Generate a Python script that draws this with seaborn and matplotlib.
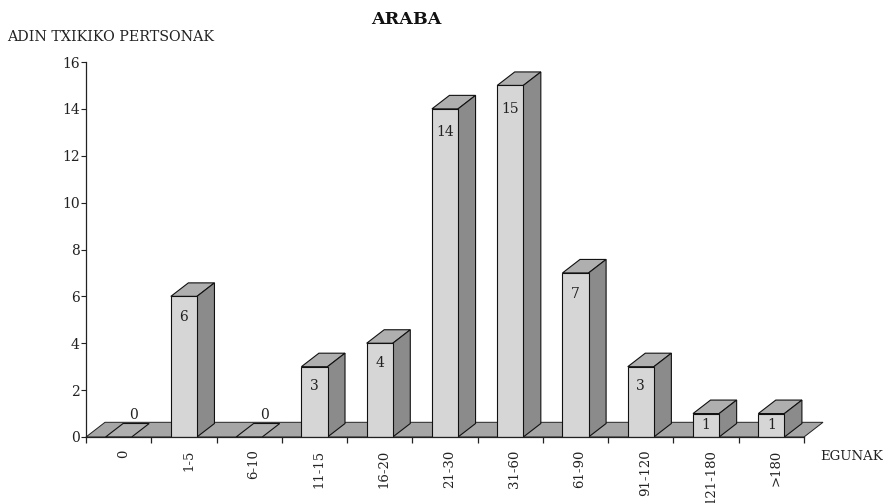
import numpy as np
import pandas as pd
import matplotlib
matplotlib.use('Agg')
import matplotlib.pyplot as plt
from matplotlib.patches import Polygon
import seaborn as sns

categories = ['0', '1-5', '6-10', '11-15', '16-20', '21-30', '31-60', '61-90', '91-120', '121-180', '>180']
values = [0, 6, 0, 3, 4, 14, 15, 7, 3, 1, 1]
y_ticks = [0, 2, 4, 6, 8, 10, 12, 14, 16]

sns.set_style('white')
plt.rcParams['font.family'] = ['DejaVu Serif']

W, H = 884, 503
fig = plt.figure(figsize=(W / 100, H / 100), dpi=100)
ax = fig.add_axes([86 / W, (H - 437) / H, (804 - 86) / W, (437 - 62) / H])

df = pd.DataFrame({'dias': categories, 'n': values})
sns.barplot(data=df, x='dias', y='n', ax=ax, color='#d6d6d6', saturation=1, width=0.4,
            edgecolor='#111111', linewidth=0.8, zorder=3)

ax.set_xlim(-0.5, 10.5)
ax.set_ylim(0, 16)
ax.set_xlabel(None)
ax.set_ylabel(None)

# fake 3d depth, in data units
dx = 17.5 / (718 / 11)
dy = 13.5 / (375 / 16)
floor_dx = 19 / (718 / 11)
floor_dy = 14.7 / (375 / 16)

ax.add_patch(Polygon([(-0.5, 0), (-0.5 + floor_dx, floor_dy), (10.5 + floor_dx, floor_dy), (10.5, 0)],
                     closed=True, facecolor='#a6a6a6', edgecolor='#222222', linewidth=0.7, zorder=1, clip_on=False))

for bar, val in zip(ax.patches[:len(values)], values):
    x0 = bar.get_x()
    x1 = x0 + bar.get_width()
    h = bar.get_height()
    ax.add_patch(Polygon([(x0, h), (x0 + dx, h + dy), (x1 + dx, h + dy), (x1, h)], closed=True,
                         facecolor='#afafaf', edgecolor='#111111', linewidth=0.8, zorder=2, clip_on=False))
    if h > 0:
        ax.add_patch(Polygon([(x1, 0), (x1 + dx, dy), (x1 + dx, h + dy), (x1, h)], closed=True,
                             facecolor='#8b8b8b', edgecolor='#111111', linewidth=0.8, zorder=2, clip_on=False))
        off = -min(h * (375 / 16) / 2, 18 + h * 0.4) * 0.72
        ax.annotate(str(val), (x0 + bar.get_width() / 2, h), xytext=(0, off), textcoords='offset points',
                    ha='center', va='center', fontsize=10, color='#222222', zorder=5)
    else:
        ax.annotate(str(val), (x0 + bar.get_width() / 2 + dx * 0.85, 0), xytext=(0, 22 * 0.72),
                    textcoords='offset points', ha='center', va='center', fontsize=10, color='#222222', zorder=5)

sns.despine(ax=ax)
for side in ['left', 'bottom']:
    ax.spines[side].set_color('#222222')
    ax.spines[side].set_linewidth(0.9)
    ax.spines[side].set_zorder(6)

ax.set_yticks(y_ticks)
ax.tick_params(axis='y', left=True, length=3.6, width=0.8, color='#222222', labelsize=10, pad=1, labelcolor='#222222')
ax.set_xticks(np.arange(-0.5, 11, 1))
ax.set_xticklabels([])
ax.tick_params(axis='x', which='major', bottom=True, length=4.5, width=0.9, color='#222222')
ax.set_xticks(np.arange(len(categories)) + 0.07, minor=True)
ax.set_xticklabels(categories, minor=True, rotation=90, fontsize=9.5, color='#222222')
ax.tick_params(axis='x', which='minor', bottom=False, pad=7)

fig.text(406.5 / W, 1 - 19 / H, 'ARABA', ha='center', va='center', fontsize=12.6, fontweight='bold', color='#111111')
fig.text(7 / W, 1 - 37 / H, 'ADIN TXIKIKO PERTSONAK', ha='left', va='center', fontsize=10.3, color='#222222')
fig.text(820 / W, 1 - 457 / H, 'EGUNAK', ha='left', va='center', fontsize=9.5, color='#222222')

fig.savefig('out.png', dpi=100)
